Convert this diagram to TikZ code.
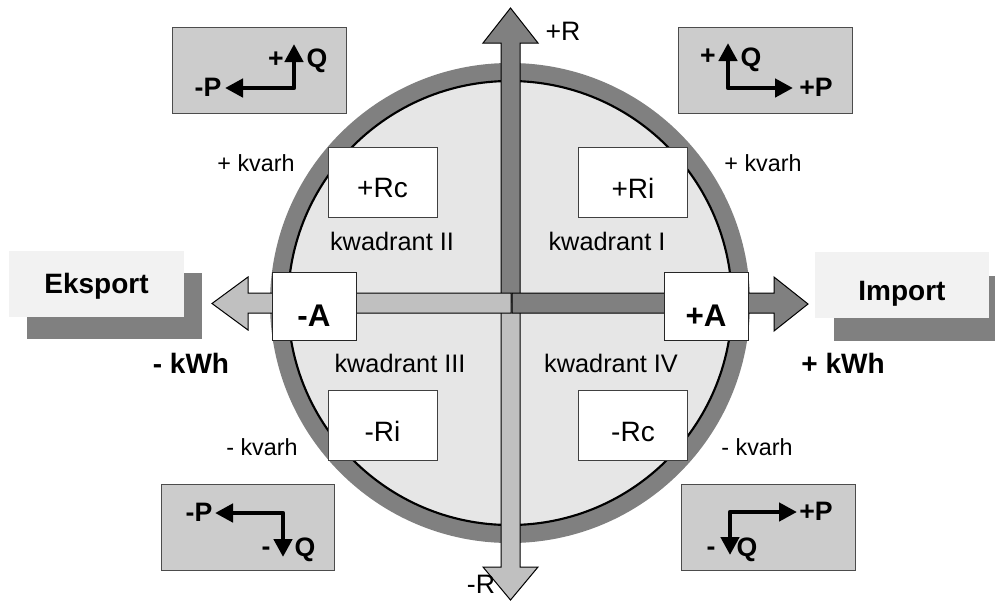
\documentclass[tikz,border=0pt]{standalone}
\usepackage{fontspec}
\setmainfont{Liberation Sans}
\usetikzlibrary{arrows.meta}
\definecolor{ringgray}{HTML}{808080}
\definecolor{innergray}{HTML}{E6E6E6}
\definecolor{lightarrow}{HTML}{C0C0C0}
\definecolor{darkarrow}{HTML}{808080}
\definecolor{cornergray}{HTML}{CCCCCC}
\definecolor{labelgray}{HTML}{F2F2F2}

\begin{document}
\begin{tikzpicture}[x=0.75pt, y=-0.75pt,
    qbox/.style={draw=black!75, fill=white, line width=0.75pt, minimum width=81.75pt, minimum height=52.5pt, inner sep=0pt},
    abox/.style={draw=black!85, fill=white, line width=0.75pt, minimum width=63pt, minimum height=51pt, inner sep=0pt},
    cbox/.style={draw=black!70, fill=cornergray, line width=0.75pt, minimum width=130pt, minimum height=64.5pt, inner sep=0pt},
    qtext/.style={font=\fontsize{21}{24}\selectfont, inner sep=0pt},
    quad/.style={font=\fontsize{19}{22}\selectfont, anchor=base, inner sep=0pt},
    small/.style={font=\fontsize{17.5}{20}\selectfont, anchor=base, inner sep=0pt},
    rlabel/.style={font=\fontsize{20}{22}\selectfont, anchor=base, inner sep=0pt},
    big/.style={font=\bfseries\fontsize{21}{24}\selectfont, anchor=base, inner sep=0pt},
    atext/.style={font=\bfseries\fontsize{23.5}{26}\selectfont, anchor=base, inner sep=0pt},
    pq/.style={font=\bfseries\fontsize{20}{22}\selectfont, anchor=base, inner sep=0pt},
    pqarrow/.style={line width=3.5pt, line join=round, {Triangle[length=13.5pt, width=13.5pt]}-{Triangle[length=13.5pt, width=13.5pt]}},
    shaft/.style={draw=black, line width=0.75pt, line join=miter}]
  \useasboundingbox (0,0) rectangle (995,601);

  % ring and inner disc
  \fill[ringgray] (510,303) circle (240);
  \draw[fill=innergray, line width=1.6pt] (510,303) circle (222);

  % vertical arrow
  \draw[shaft, fill=darkarrow] (501,303) -- (501,43) -- (483,43) -- (510.5,8) -- (538,43) -- (520,43) -- (520,303);
  \draw[shaft, fill=lightarrow] (501,303) -- (501,567) -- (483,567) -- (510.5,600) -- (538,567) -- (520,567) -- (520,303);
  % horizontal arrow
  \draw[shaft, fill=lightarrow] (511,293) -- (248,293) -- (248,277) -- (212,303.5) -- (248,330) -- (248,313) -- (511,313) -- cycle;
  \draw[shaft, fill=darkarrow] (512,293) -- (774,293) -- (774,277) -- (808,304) -- (774,331) -- (774,313) -- (512,313) -- cycle;

  % A boxes
  \node[abox] (minusA) at (314,306) {};
  \node[abox] (plusA) at (706,306) {};
  \node[atext] (minusAt) at (314,326) {-A};
  \node[atext] (plusAt) at (706,326) {+A};

  % quadrant boxes
  \node[qbox] (rc) at (382.5,182) {};
  \node[qbox] (ri) at (633,182) {};
  \node[qbox] (mri) at (382.5,425.5) {};
  \node[qbox] (mrc) at (633,425.5) {};
  \node[qtext] at ([yshift=-4.5pt]rc.center) {+Rc};
  \node[qtext] at ([yshift=-4.5pt]ri.center) {+Ri};
  \node[qtext] at ([yshift=-4.5pt]mri.center) {-Ri};
  \node[qtext] at ([yshift=-4.5pt]mrc.center) {-Rc};

  \node[quad] (q2) at (392,250) {kwadrant II};
  \node[quad] (q1) at (607,250) {kwadrant I};
  \node[quad] (q3) at (400,372) {kwadrant III};
  \node[quad] (q4) at (611,372) {kwadrant IV};

  % side labels
  \node[small] (kvTL) at (256,171) {+ kvarh};
  \node[small] (kvTR) at (763,171) {+ kvarh};
  \node[small] (kvBL) at (262,455) {- kvarh};
  \node[small] (kvBR) at (757,455) {- kvarh};
  \node[rlabel] (pR) at (563,40) {+R};
  \node[rlabel] (mR) at (481,593) {-R};
  \node[big] (mkwh) at (191,373) {- kWh};
  \node[big] (pkwh) at (843,373) {+ kWh};

  % Eksport / Import
  \fill[ringgray] (27,273) rectangle (202,339);
  \fill[labelgray] (9,251) rectangle (184,317);
  \node[big] (eks) at (96.5,293) {Eksport};
  \fill[ringgray] (834,276) rectangle (995,341);
  \fill[labelgray] (815,252) rectangle (989,318);
  \node[big] (imp) at (902,300) {Import};

  % corner boxes
  \node[cbox] (tl) at (259.5,70) {};
  \node[cbox] (tr) at (765.5,70) {};
  \node[cbox] (bl) at (248,527) {};
  \node[cbox] (br) at (768.5,527.5) {};

  \coordinate (tlP) at (225,88);
  \coordinate (tlC) at (294,88);
  \coordinate (tlQ) at (294,44);
  \draw[pqarrow] (tlP) -- (tlC) -- (tlQ);
  \node[pq] at (208,96) {-P};
  \node[pq] at (276,67) {+};
  \node[pq] at (317,67) {Q};

  \coordinate (trQ) at (728,43);
  \coordinate (trC) at (728,88);
  \coordinate (trP) at (793,88);
  \draw[pqarrow] (trQ) -- (trC) -- (trP);
  \node[pq] at (708,64) {+};
  \node[pq] at (751,66) {Q};
  \node[pq] at (816,96) {+P};

  \coordinate (blP) at (215,513);
  \coordinate (blC) at (283,513);
  \coordinate (blQ) at (283,557);
  \draw[pqarrow] (blP) -- (blC) -- (blQ);
  \node[pq] at (199,521) {-P};
  \node[pq] at (266,555) {-};
  \node[pq] at (305,556) {Q};

  \coordinate (brP) at (797,512);
  \coordinate (brC) at (730,512);
  \coordinate (brQ) at (730,555);
  \draw[pqarrow] (brP) -- (brC) -- (brQ);
  \node[pq] at (816,520) {+P};
  \node[pq] at (711,555) {-};
  \node[pq] at (747,556) {Q};
\end{tikzpicture}
\end{document}
